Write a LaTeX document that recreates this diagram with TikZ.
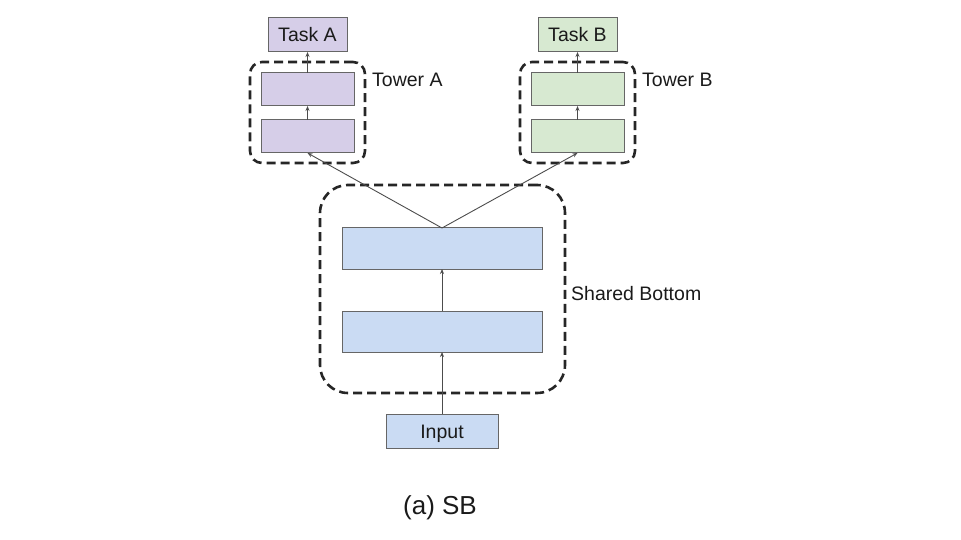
\documentclass[tikz,border=0pt]{standalone}
\usepackage{fontspec}
\setmainfont{Liberation Sans}
\usetikzlibrary{arrows.meta}
\definecolor{purp}{HTML}{D6CEE8}
\definecolor{grn}{HTML}{D7E9D1}
\definecolor{blu}{HTML}{CADBF3}
\definecolor{edge}{HTML}{666666}
\definecolor{txt}{HTML}{1A1A1A}
\tikzset{
  box/.style={draw=edge, line width=1pt, rectangle, inner sep=0pt, outer sep=0pt, text=txt, font=\fontsize{19.5}{22}\selectfont, text height=14pt, text depth=0pt},
  dbox/.style={draw=black!85, line width=2.6pt, dash pattern=on 9pt off 5pt, rounded corners=#1, rectangle, inner sep=0pt, outer sep=0pt},
  lbl/.style={anchor=west, inner sep=0pt, text=txt, font=\fontsize{19.5}{22}\selectfont, text height=14pt, text depth=0pt},
  conn/.style={draw=black!70, line width=0.9pt, -{Stealth[length=5pt,width=4pt]}},
}
\begin{document}
\begin{tikzpicture}[x=1pt,y=-1pt]
\useasboundingbox (0,0) rectangle (961,540);
% Tower A
\node[dbox=12pt, minimum width=115pt, minimum height=101pt] (towA) at (307.5,112.5) {};
\node[box, fill=purp, minimum width=79pt, minimum height=34pt] (taskA) at (307.5,35) {Task A};
\node[box, fill=purp, minimum width=93pt, minimum height=33pt] (a2) at (307.5,89.5) {};
\node[box, fill=purp, minimum width=93pt, minimum height=33pt] (a1) at (307.5,136.5) {};
\node[lbl] (labA) at (372,80) {Tower A};
% Tower B
\node[dbox=12pt, minimum width=115pt, minimum height=101pt] (towB) at (577.5,112.5) {};
\node[box, fill=grn, minimum width=79pt, minimum height=34pt] (taskB) at (577.5,35) {Task B};
\node[box, fill=grn, minimum width=93pt, minimum height=33pt] (b2) at (577.5,89.5) {};
\node[box, fill=grn, minimum width=93pt, minimum height=33pt] (b1) at (577.5,136.5) {};
\node[lbl] (labB) at (642,80) {Tower B};
% Shared bottom
\node[dbox=28pt, minimum width=245pt, minimum height=208pt] (shared) at (442.5,289) {};
\node[box, fill=blu, minimum width=200pt, minimum height=41pt] (s2) at (442,248.5) {};
\node[box, fill=blu, minimum width=200pt, minimum height=41pt] (s1) at (442,331.5) {};
\node[box, fill=blu, minimum width=112pt, minimum height=34pt] (inp) at (442,431) {Input};
\node[lbl] (labS) at (571,293) {Shared Bottom};
% connectors
\draw[conn] (inp.north) -- (s1.south);
\draw[conn] (s1.north) -- (s2.south);
\draw[conn] (s2.north) -- (a1.south);
\draw[conn] (s2.north) -- (b1.south);
\draw[conn] (a1.north) -- (a2.south);
\draw[conn] (a2.north) -- (taskA.south);
\draw[conn] (b1.north) -- (b2.south);
\draw[conn] (b2.north) -- (taskB.south);
% caption
\node[inner sep=0pt, text=txt, font=\fontsize{26}{29}\selectfont, text height=18.6pt, text depth=0pt] (cap) at (440,505) {(a) SB};
\end{tikzpicture}
\end{document}
